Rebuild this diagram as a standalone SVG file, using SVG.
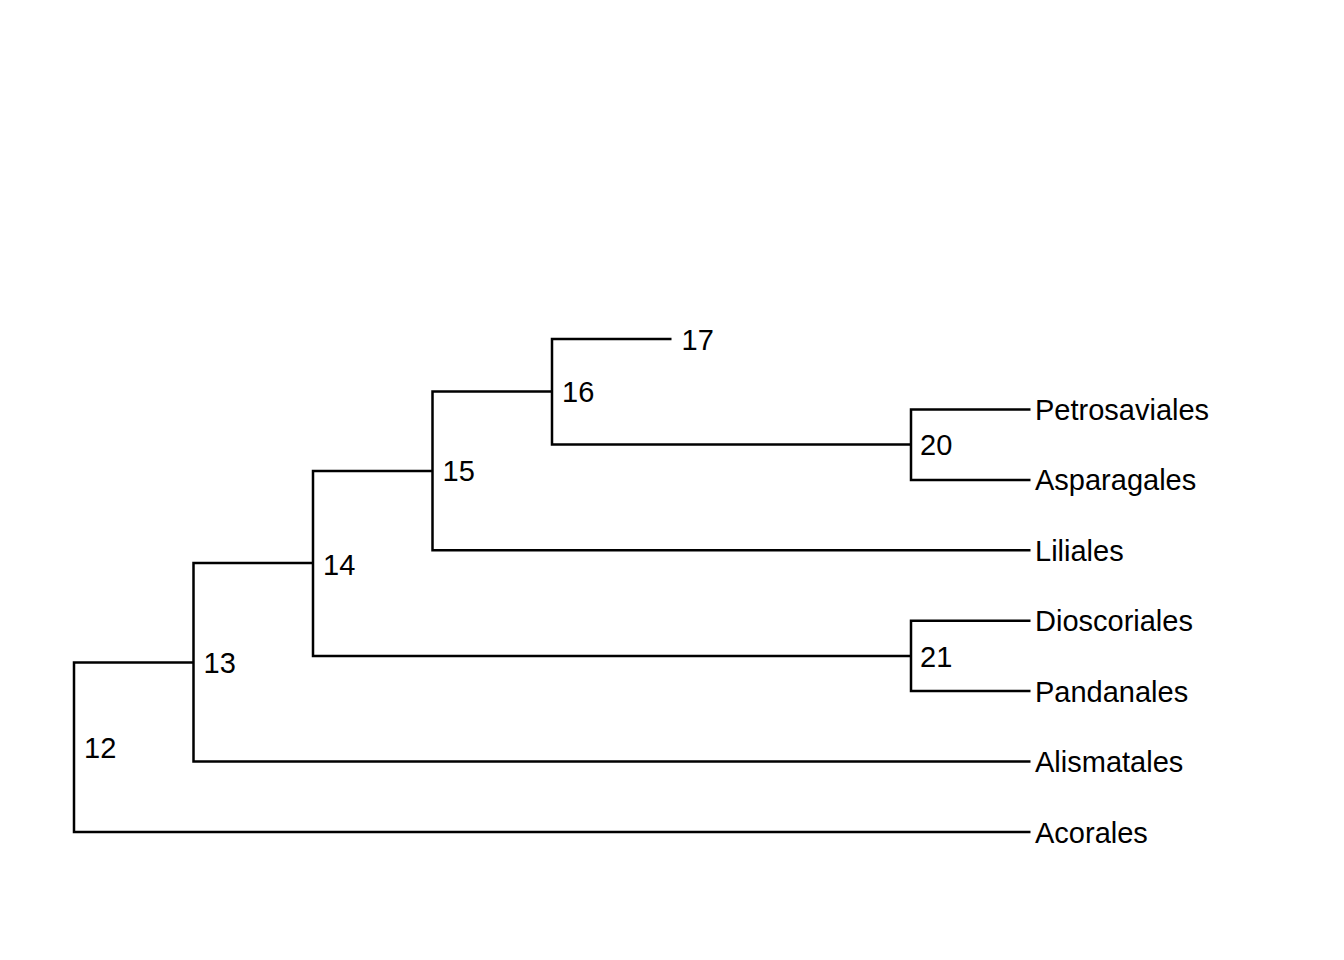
<svg xmlns="http://www.w3.org/2000/svg" width="1344" height="960" viewBox="0 0 1344 960">
<style>
.e{fill:none;stroke:#000;stroke-width:2.5;stroke-linecap:butt;stroke-linejoin:miter}
.t{font-family:"Liberation Sans",Arial,sans-serif;font-size:29px;fill:#000}
</style>
<rect width="1344" height="960" fill="#fff"/>
<g id="connectors">
<path class="e" d="M1030.5,832 H74 V662.5 H193.5"/>
<path class="e" d="M1030.5,761.6 H193.5 V563 H313"/>
<path class="e" d="M911,656 H313 V471 H432.5"/>
<path class="e" d="M1030.5,620.7 H911 V691.1 H1030.5"/>
<path class="e" d="M1030.5,550.3 H432.5 V391.5 H552"/>
<path class="e" d="M671.5,339 H552 V444.5 H911"/>
<path class="e" d="M1030.5,409.4 H911 V479.9 H1030.5"/>
</g>
<g id="n12"><text class="t" x="84" y="757.5">12</text></g>
<g id="n13"><text class="t" x="203.5" y="673">13</text></g>
<g id="n14"><text class="t" x="323" y="575">14</text></g>
<g id="n15"><text class="t" x="442.5" y="481">15</text></g>
<g id="n16"><text class="t" x="562" y="402">16</text></g>
<g id="n17"><text class="t" x="681.5" y="349.5">17</text></g>
<g id="n20"><text class="t" x="920" y="455">20</text></g>
<g id="n21"><text class="t" x="920" y="666.5">21</text></g>
<g id="tPetrosaviales"><text class="t" x="1035" y="420">Petrosaviales</text></g>
<g id="tAsparagales"><text class="t" x="1035" y="490.4">Asparagales</text></g>
<g id="tLiliales"><text class="t" x="1035" y="560.8">Liliales</text></g>
<g id="tDioscoriales"><text class="t" x="1035" y="631.2">Dioscoriales</text></g>
<g id="tPandanales"><text class="t" x="1035" y="701.6">Pandanales</text></g>
<g id="tAlismatales"><text class="t" x="1035" y="772.1">Alismatales</text></g>
<g id="tAcorales"><text class="t" x="1035" y="842.5">Acorales</text></g>
</svg>
